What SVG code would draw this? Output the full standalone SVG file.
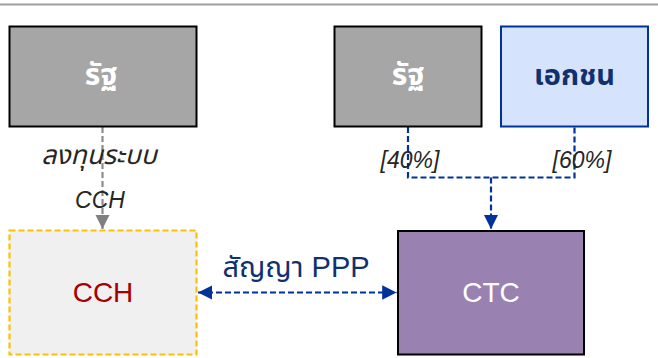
<svg xmlns="http://www.w3.org/2000/svg" width="658" height="358" viewBox="0 0 658 358">
<defs>
<style>
.t{font-family:"Liberation Sans","Noto Sans Thai","Noto Sans Thai UI","Noto Sans","DejaVu Sans",sans-serif;text-anchor:middle}
.box{stroke-width:2}
.lbl{font-style:italic;font-size:23px;fill:#262626}
.blue{stroke:#003399;stroke-width:2.2;stroke-dasharray:6 3;fill:none}
</style>
<marker id="ab" viewBox="0 0 10 10" refX="10" refY="5" markerWidth="6.5" markerHeight="6.5" orient="auto-start-reverse" markerUnits="strokeWidth"><path d="M0,0L10,5L0,10z" fill="#003399"/></marker>
<marker id="ag" viewBox="0 0 10 10" refX="10" refY="5" markerWidth="6.5" markerHeight="6.5" orient="auto" markerUnits="strokeWidth"><path d="M0,0L10,5L0,10z" fill="#808080"/></marker>
</defs>
<rect width="658" height="358" fill="#fff"/>
<line x1="0" y1="4.5" x2="658" y2="4.5" stroke="#a0a0a0" stroke-width="2"/>
<g id="connectors">
<path d="M102.5,127 V229" stroke="#8c8c8c" stroke-width="2.2" stroke-dasharray="6 3" fill="none" marker-end="url(#ag)"/>
<path class="blue" d="M408,127 V177.5 H574.5 V127"/>
<path class="blue" d="M491,177.5 V229" marker-end="url(#ab)"/>
<path class="blue" d="M198,292.5 H396.5" marker-start="url(#ab)" marker-end="url(#ab)"/>
<text class="t lbl" x="99" y="164" style="font-size:26.5px">ลงทุนระบบ</text>
<text class="t lbl" x="100" y="208">CCH</text>
<text class="t lbl" x="410" y="168">[40%]</text>
<text class="t lbl" x="582" y="168">[60%]</text>
<text class="t" x="296" y="277" font-size="29" fill="#10306e">สัญญา PPP</text>
</g>
<g id="state1">
<rect class="box" x="9.5" y="26.5" width="187" height="100" fill="#a6a6a6" stroke="#000"/>
<text class="t" x="101" y="85" font-size="30" font-weight="bold" fill="#fff">รัฐ</text>
</g>
<g id="state2">
<rect class="box" x="334.5" y="26.5" width="147" height="100" fill="#a6a6a6" stroke="#000"/>
<text class="t" x="408" y="85" font-size="30" font-weight="bold" fill="#fff">รัฐ</text>
</g>
<g id="private">
<rect class="box" x="501" y="26.5" width="147" height="100" fill="#d6e3fd" stroke="#003399"/>
<text class="t" x="574.5" y="85" font-size="29" font-weight="bold" fill="#10306e">เอกชน</text>
</g>
<g id="cch">
<rect x="9.5" y="230.5" width="187" height="124" fill="#f0f0f0" stroke="#ffc000" stroke-width="2.2" stroke-dasharray="6 3"/>
<text class="t" x="103" y="302" font-size="28" fill="#a50000">CCH</text>
</g>
<g id="ctc">
<rect class="box" x="398" y="231" width="186" height="123.5" fill="#9982b1" stroke="#000"/>
<text class="t" x="491" y="302" font-size="28" fill="#fff">CTC</text>
</g>
</svg>
